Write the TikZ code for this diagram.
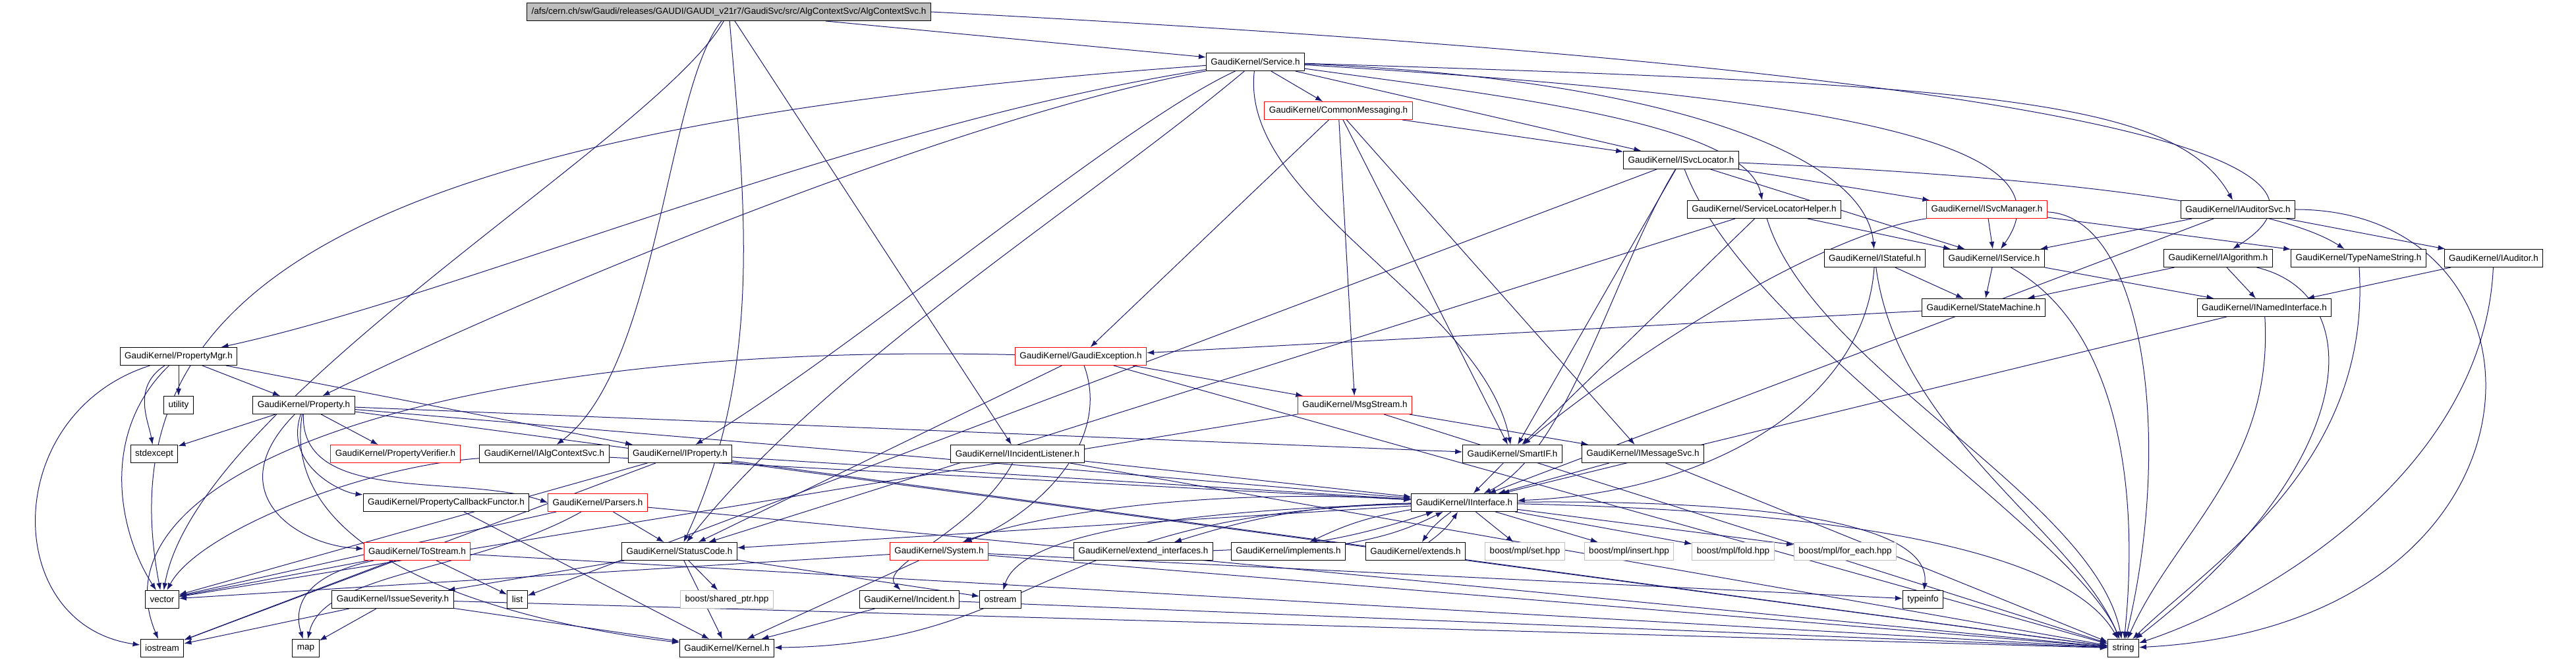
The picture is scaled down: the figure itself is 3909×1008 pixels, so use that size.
\documentclass[tikz,border=0pt]{standalone}
\usepackage{fontspec}
\setmainfont{Liberation Sans}
\usetikzlibrary{arrows.meta}
\definecolor{edgeblue}{RGB}{25,25,112}
\definecolor{boxgray}{RGB}{191,191,191}
\pgfdeclarelayer{edges}
\pgfsetlayers{edges,main}
\begin{document}
\begin{tikzpicture}[x=1pt,y=1pt,
  hfile/.style={draw=black,fill=white,line width=1pt,minimum height=27pt,inner xsep=7pt,inner ysep=0pt,font=\fontsize{13.5}{14}\selectfont},
  hred/.style={hfile,draw=red},
  hext/.style={hfile,draw=boxgray},
  hroot/.style={hfile,fill=boxgray},
  incl/.style={edgeblue,line width=1pt,-{Latex[length=11pt,width=8pt]}}]
  \useasboundingbox (0,0) rectangle (3909,1008);
  \node[hroot] (root) at (1106,990) {/afs/cern.ch/sw/Gaudi/releases/GAUDI/GAUDI\_v21r7/GaudiSvc/src/AlgContextSvc/AlgContextSvc.h};
  \node[hfile] (svc) at (1905,914) {GaudiKernel/Service.h};
  \node[hred] (cmsg) at (2031,840) {GaudiKernel/CommonMessaging.h};
  \node[hfile] (isvcloc) at (2551,765) {GaudiKernel/ISvcLocator.h};
  \node[hfile] (slh) at (2677,690) {GaudiKernel/ServiceLocatorHelper.h};
  \node[hred] (isvcmgr) at (3015,690) {GaudiKernel/ISvcManager.h};
  \node[hfile] (iaudsvc) at (3396,690) {GaudiKernel/IAuditorSvc.h};
  \node[hfile] (istateful) at (2845,616) {GaudiKernel/IStateful.h};
  \node[hfile] (iservice) at (3026,616) {GaudiKernel/IService.h};
  \node[hfile] (ialg) at (3366,616) {GaudiKernel/IAlgorithm.h};
  \node[hfile] (tns) at (3579,616) {GaudiKernel/TypeNameString.h};
  \node[hfile] (iaud) at (3784,616) {GaudiKernel/IAuditor.h};
  \node[hfile] (statem) at (3010,541) {GaudiKernel/StateMachine.h};
  \node[hfile] (inamed) at (3436,541) {GaudiKernel/INamedInterface.h};
  \node[hfile] (pmgr) at (271,467) {GaudiKernel/PropertyMgr.h};
  \node[hred] (gexc) at (1640,467) {GaudiKernel/GaudiException.h};
  \node[hfile] (utility) at (271,393) {utility};
  \node[hfile] (prop) at (461,393) {GaudiKernel/Property.h};
  \node[hred] (msgs) at (2056,393) {GaudiKernel/MsgStream.h};
  \node[hfile] (stdexcept) at (234,319) {stdexcept};
  \node[hred] (pverif) at (600,319) {GaudiKernel/PropertyVerifier.h};
  \node[hfile] (ialgctx) at (826,319) {GaudiKernel/IAlgContextSvc.h};
  \node[hfile] (iprop) at (1032,319) {GaudiKernel/IProperty.h};
  \node[hfile] (iincl) at (1544,319) {GaudiKernel/IIncidentListener.h};
  \node[hfile] (smartif) at (2295,319) {GaudiKernel/SmartIF.h};
  \node[hfile] (imsgsvc) at (2493,319) {GaudiKernel/IMessageSvc.h};
  \node[hfile] (pcbf) at (677,245) {GaudiKernel/PropertyCallbackFunctor.h};
  \node[hred] (parsers) at (907,245) {GaudiKernel/Parsers.h};
  \node[hfile] (iif) at (2222,245) {GaudiKernel/IInterface.h};
  \node[hred] (tostream) at (633,171) {GaudiKernel/ToStream.h};
  \node[hfile] (sc) at (1031,171) {GaudiKernel/StatusCode.h};
  \node[hred] (system) at (1425,171) {GaudiKernel/System.h};
  \node[hfile] (extint) at (1735,171) {GaudiKernel/extend\_interfaces.h};
  \node[hfile] (impl) at (1955,171) {GaudiKernel/implements.h};
  \node[hfile] (extends) at (2148,171) {GaudiKernel/extends.h};
  \node[hext] (mplset) at (2314,171) {boost/mpl/set.hpp};
  \node[hext] (mplinsert) at (2472,171) {boost/mpl/insert.hpp};
  \node[hext] (mplfold) at (2630,171) {boost/mpl/fold.hpp};
  \node[hext] (mplforeach) at (2800,171) {boost/mpl/for\_each.hpp};
  \node[hfile] (vector) at (246,98) {vector};
  \node[hfile] (issev) at (596,98) {GaudiKernel/IssueSeverity.h};
  \node[hfile] (list) at (785,98) {list};
  \node[hext] (shptr) at (1103,98) {boost/shared\_ptr.hpp};
  \node[hfile] (incident) at (1380,98) {GaudiKernel/Incident.h};
  \node[hfile] (ostream) at (1518,98) {ostream};
  \node[hfile] (typeinfo) at (2918,98) {typeinfo};
  \node[hfile] (iostream) at (246,24) {iostream};
  \node[hfile] (map) at (464,24) {map};
  \node[hfile] (kernel) at (1103,24) {GaudiKernel/Kernel.h};
  \node[hfile] (string) at (3222,24) {string};
  \begin{pgfonlayer}{edges}
  \draw[incl] (root) -- (svc);
  \draw[incl] (root) .. controls (1010,870) and (1000,450) .. (ialgctx);
  \draw[incl] (root) .. controls (1130,700) and (1160,450) .. (sc);
  \draw[incl] (root) -- (iincl);
  \draw[incl] (root) .. controls (1000,800) and (300,400) .. (vector);
  \draw[incl] (root.east) .. controls (3530,880) and (3530,720) .. (ialg);
  \draw[incl] (svc) -- (cmsg);
  \draw[incl] (svc) -- (isvcloc);
  \draw[incl] (svc) .. controls (2300,860) and (2650,820) .. (slh);
  \draw[incl] (svc) .. controls (2500,890) and (2830,780) .. (istateful);
  \draw[incl] (svc) .. controls (2800,860) and (3150,790) .. (iservice);
  \draw[incl] (svc) .. controls (3000,880) and (3300,860) .. (iaudsvc);
  \draw[incl] (svc) .. controls (1300,820) and (700,560) .. (pmgr);
  \draw[incl] (svc) .. controls (600,820) and (150,600) .. (vector);
  \draw[incl] (svc) .. controls (1450,830) and (800,560) .. (prop);
  \draw[incl] (svc) .. controls (1700,820) and (1300,480) .. (iprop);
  \draw[incl] (svc) .. controls (1880,700) and (2250,550) .. (smartif);
  \draw[incl] (svc) .. controls (1650,700) and (1250,450) .. (sc);
  \draw[incl] (cmsg) -- (isvcloc);
  \draw[incl] (cmsg) -- (gexc);
  \draw[incl] (cmsg) -- (msgs);
  \draw[incl] (cmsg) -- (imsgsvc);
  \draw[incl] (cmsg) -- (smartif);
  \draw[incl] (isvcloc) -- (isvcmgr);
  \draw[incl] (isvcloc) -- (iservice);
  \draw[incl] (isvcloc) .. controls (3100,740) and (3450,700) .. (tns);
  \draw[incl] (isvcloc) -- (smartif);
  \draw[incl] (isvcloc) .. controls (2450,600) and (2380,320) .. (iif);
  \draw[incl] (isvcloc) -- (list);
  \draw[incl] (isvcloc) .. controls (2650,500) and (3150,200) .. (string);
  \draw[incl] (slh) -- (iservice);
  \draw[incl] (slh) -- (smartif);
  \draw[incl] (slh) -- (sc);
  \draw[incl] (slh) .. controls (2750,450) and (3180,250) .. (string);
  \draw[incl] (isvcmgr) -- (iservice);
  \draw[incl] (isvcmgr) -- (tns);
  \draw[incl] (isvcmgr) .. controls (2750,650) and (2450,450) .. (smartif);
  \draw[incl] (isvcmgr) .. controls (3250,680) and (3300,350) .. (string);
  \draw[incl] (iaudsvc) -- (iservice);
  \draw[incl] (iaudsvc) -- (iaud);
  \draw[incl] (iaudsvc) -- (iif);
  \draw[incl] (iaudsvc.east) .. controls (3900,690) and (3900,60) .. (string);
  \draw[incl] (istateful) -- (statem);
  \draw[incl] (istateful) .. controls (2830,400) and (2600,260) .. (iif);
  \draw[incl] (istateful) .. controls (2880,350) and (3150,200) .. (string);
  \draw[incl] (iservice) -- (statem);
  \draw[incl] (iservice) -- (inamed);
  \draw[incl] (iservice) .. controls (3200,520) and (3250,300) .. (string);
  \draw[incl] (ialg) -- (statem);
  \draw[incl] (ialg) -- (inamed);
  \draw[incl] (ialg) .. controls (3600,560) and (3580,300) .. (string);
  \draw[incl] (tns) .. controls (3600,300) and (3350,150) .. (string);
  \draw[incl] (iaud) -- (inamed);
  \draw[incl] (iaud) .. controls (3770,300) and (3450,100) .. (string);
  \draw[incl] (inamed) -- (iif);
  \draw[incl] (inamed) .. controls (3450,300) and (3300,200) .. (string);
  \draw[incl] (statem) -- (gexc);
  \draw[incl] (pmgr) -- (utility);
  \draw[incl] (pmgr) -- (prop);
  \draw[incl] (pmgr) .. controls (200,420) and (225,370) .. (stdexcept);
  \draw[incl] (pmgr) -- (iprop);
  \draw[incl] (pmgr) .. controls (150,350) and (180,200) .. (vector);
  \draw[incl] (pmgr) .. controls (0,380) and (0,60) .. (iostream);
  \draw[incl] (prop) -- (stdexcept);
  \draw[incl] (prop) -- (pverif);
  \draw[incl] (prop) .. controls (430,300) and (520,260) .. (pcbf);
  \draw[incl] (prop) .. controls (455,240) and (700,290) .. (parsers.west);
  \draw[incl] (prop) .. controls (330,260) and (450,180) .. (tostream);
  \draw[incl] (prop) .. controls (420,150) and (800,60) .. (kernel);
  \draw[incl] (prop) -- (smartif);
  \draw[incl] (prop) -- (iif);
  \draw[incl] (prop) -- (string);
  \draw[incl] (ialgctx) .. controls (550,300) and (300,200) .. (vector);
  \draw[incl] (ialgctx) -- (iif);
  \draw[incl] (iprop) -- (iif);
  \draw[incl] (iprop) -- (vector);
  \draw[incl] (iprop) -- (iostream);
  \draw[incl] (iprop) -- (string);
  \draw[incl] (iincl) -- (iif);
  \draw[incl] (iincl) .. controls (1480,200) and (1330,150) .. (incident);
  \draw[incl] (iincl) -- (string);
  \draw[incl] (gexc) -- (sc);
  \draw[incl] (gexc) .. controls (1690,330) and (1560,220) .. (system);
  \draw[incl] (gexc) -- (msgs);
  \draw[incl] (gexc) -- (string);
  \draw[incl] (gexc) .. controls (700,490) and (130,300) .. (iostream);
  \draw[incl] (msgs) -- (imsgsvc);
  \draw[incl] (msgs) -- (string);
  \draw[incl] (msgs) -- (vector);
  \draw[incl] (imsgsvc) -- (iif);
  \draw[incl] (imsgsvc) -- (string);
  \draw[incl] (smartif) -- (iif);
  \draw[incl] (pcbf) -- (kernel);
  \draw[incl] (parsers) -- (vector);
  \draw[incl] (parsers) -- (sc);
  \draw[incl] (parsers) .. controls (720,140) and (490,140) .. (map);
  \draw[incl] (parsers) -- (string);
  \draw[incl] (tostream) -- (vector);
  \draw[incl] (tostream) .. controls (440,130) and (450,70) .. (map);
  \draw[incl] (tostream) -- (list);
  \draw[incl] (tostream) -- (iostream);
  \draw[incl] (tostream) -- (string);
  \draw[incl] (iif) -- (sc);
  \draw[incl] (iif) .. controls (1800,270) and (1550,220) .. (system);
  \draw[incl] (iif) to[bend right=8] (extint);
  \draw[incl] (extint) to[bend right=8] (iif);
  \draw[incl] (iif) to[bend right=8] (impl);
  \draw[incl] (impl) to[bend right=8] (iif);
  \draw[incl] (iif) to[bend right=10] (extends);
  \draw[incl] (extends) to[bend right=10] (iif);
  \draw[incl] (iif) -- (mplset);
  \draw[incl] (iif) -- (mplinsert);
  \draw[incl] (iif) -- (mplfold);
  \draw[incl] (iif) -- (mplforeach);
  \draw[incl] (iif) .. controls (2750,250) and (2930,200) .. (typeinfo);
  \draw[incl] (iif) .. controls (2900,230) and (3150,150) .. (string);
  \draw[incl] (iif) .. controls (1580,230) and (1580,30) .. (kernel);
  \draw[incl] (iif) .. controls (1650,230) and (1540,170) .. (ostream);
  \draw[incl] (system) -- (kernel);
  \draw[incl] (system) -- (vector);
  \draw[incl] (system) -- (string);
  \draw[incl] (system) -- (typeinfo);
  \draw[incl] (sc) -- (issev);
  \draw[incl] (sc) -- (shptr);
  \draw[incl] (sc) -- (ostream);
  \draw[incl] (sc) -- (kernel);
  \draw[incl] (issev) -- (iostream);
  \draw[incl] (issev) -- (map);
  \draw[incl] (issev) -- (kernel);
  \draw[incl] (issev) -- (string);
  \draw[incl] (incident) -- (kernel);
  \draw[incl] (incident) -- (string);
  \end{pgfonlayer}
\end{tikzpicture}
\end{document}
